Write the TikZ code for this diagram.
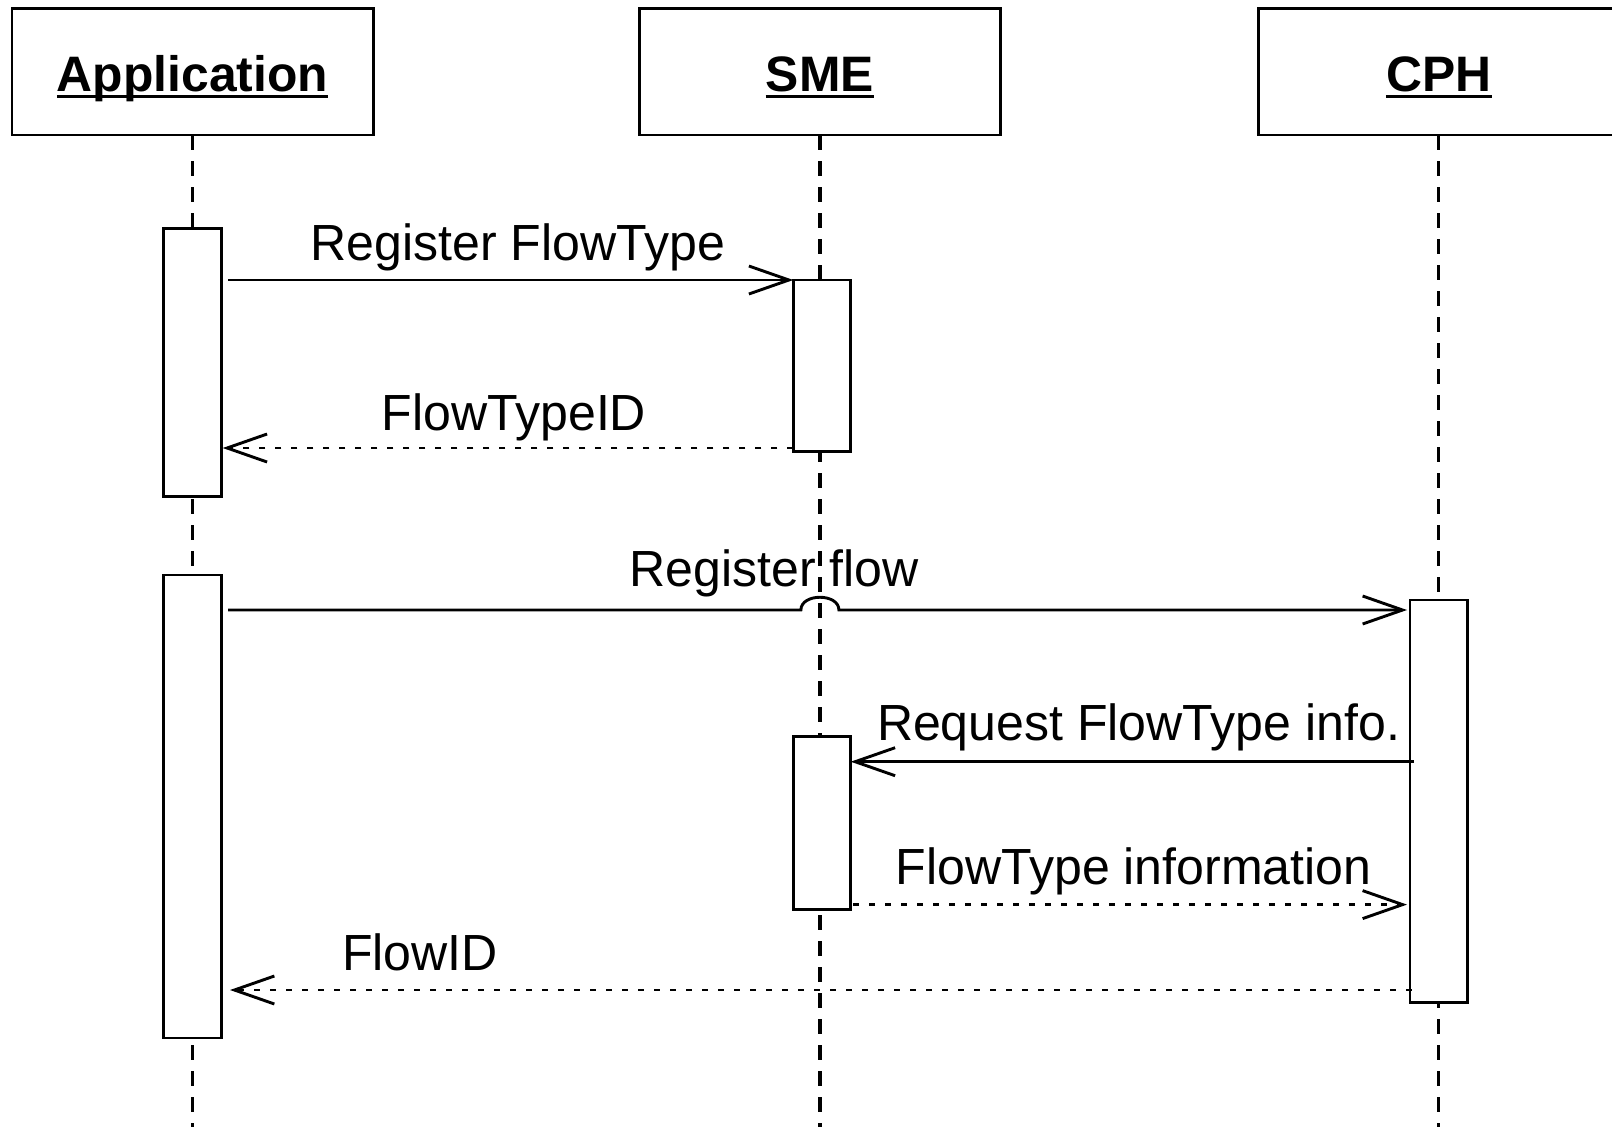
\documentclass[tikz,border=0pt]{standalone}
\usepackage{fontspec}
\setmainfont{Liberation Sans}
\newfontfamily\msgfont[FakeStretch=0.985]{Liberation Sans}
\usetikzlibrary{arrows.meta,calc}

\begin{document}
\begin{tikzpicture}[x=1bp,y=-1bp,
  box/.style={draw,line width=2.8bp,fill=white,inner sep=0pt,outer sep=0pt},
  life/.style={line width=3.2bp,dash pattern=on 15bp off 11bp},
  msg/.style={line width=2.9bp,-{Straight Barb[length=40bp,width=28bp]}},
  reply/.style={msg,dash pattern=on 6bp off 10bp},
  lbl/.style={font=\msgfont\fontsize{51}{56}\selectfont,anchor=base,inner sep=0pt},
  hdr/.style={font=\bfseries\fontsize{50}{56}\selectfont,anchor=base,inner sep=0pt},
  uline/.style={line width=2.8bp}]

\useasboundingbox (0,0) rectangle (1612,1127);
\fill[white] (0,0) rectangle (1612,1127);
\clip (0,0) rectangle (1612,1127);

% helper rows
\coordinate (bottom) at (0,1127);
\coordinate (r1) at (0,280);
\coordinate (r2) at (0,448);
\coordinate (r3) at (0,610);
\coordinate (r4) at (0,761.7);
\coordinate (r5) at (0,904.6);
\coordinate (r6) at (0,990);

% header boxes
\node[box,minimum width=361bp,minimum height=126.7bp] (app) at (192.6,71.65) {};
\node[box,minimum width=360.8bp,minimum height=126.7bp] (sme) at (819.9,71.65) {};
\node[box,minimum width=361bp,minimum height=126.7bp] (cph) at (1438.7,71.65) {};

\node[hdr] (appt) at (192.6,91.7) {Application};
\node[hdr] (smet) at (819.9,91.7) {SME};
\node[hdr] (cpht) at (1438.7,91.7) {CPH};
\draw[uline] ($(appt.base west)+(0,4.5)$) -- ($(appt.base east)+(0,4.5)$);
\draw[uline] ($(smet.base west)+(0,4.5)$) -- ($(smet.base east)+(0,4.5)$);
\draw[uline] ($(cpht.base west)+(0,4.5)$) -- ($(cpht.base east)+(0,4.5)$);

% lifelines
\draw[life] (app.south) -- (app.south |- bottom);
\draw[life] (sme.south) -- (sme.south |- bottom);
\draw[life] (cph.south) -- (cph.south |- bottom);

% activations
\node[box,minimum width=58.4bp,minimum height=268.4bp] (a1) at (192.5,362.3) {};
\node[box,minimum width=57.4bp,minimum height=171.5bp] (s1) at (822,365.75) {};
\node[box,minimum width=58.4bp,minimum height=463bp] (a2) at (192.5,806.5) {};
\node[box,minimum width=57.3bp,minimum height=402.7bp] (c1) at (1438.65,801.35) {};
\node[box,minimum width=57.4bp,minimum height=172.6bp] (s2) at (822,823) {};

% messages
\draw[msg] ($(a1.east |- r1)+(6.3,0)$) -- (s1.west |- r1);
\draw[reply] (s1.west |- r2) -- ($(a1.east |- r2)+(1,0)$);
\draw[msg] ($(a2.east |- r3)+(6.3,0)$) -- ($(sme.south |- r3)+(-19,0)$)
  .. controls +(0,-17) and +(0,-17) .. ($(sme.south |- r3)+(19,0)$)
  -- ($(c1.west |- r3)+(-3,0)$);
\draw[msg] ($(c1.west |- r4)+(4,0)$) -- (s2.east |- r4);
\draw[reply] ($(s2.east |- r5)+(2.5,0)$) -- ($(c1.west |- r5)+(-3,0)$);
\draw[reply] ($(c1.west |- r6)+(1.7,0)$) -- ($(a2.east |- r6)+(8.3,0)$);

% labels
\node[lbl] (m1) at (518,260) {Register FlowType};
\node[lbl] (m2) at (514,430) {FlowTypeID};
\node[lbl] (m3) at (774,586) {Register flow};
\node[lbl] (m4) at (1138.5,740) {Request FlowType info.};
\node[lbl] (m5) at (1133.5,884) {FlowType information};
\node[lbl] (m6) at (420,970) {FlowID};
\end{tikzpicture}
\end{document}
